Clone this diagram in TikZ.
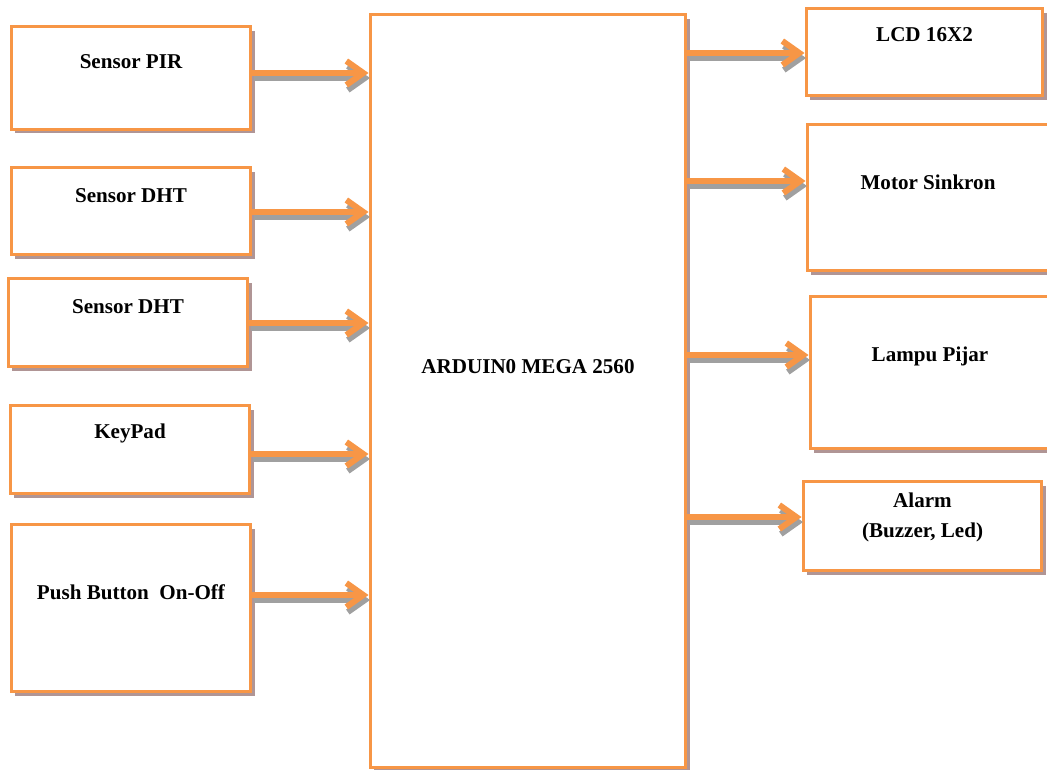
\documentclass[tikz,border=0pt]{standalone}
\usepackage{fontspec}
\setmainfont{Liberation Serif}
\usepackage{tikz}
\usetikzlibrary{arrows.meta,shadows}

\definecolor{oren}{HTML}{F79646}
\definecolor{bayang}{HTML}{B09595}
\definecolor{abu}{HTML}{A0A0A0}

\tikzset{
  blok/.style={draw=oren, line width=0.06cm, fill=white, inner sep=0pt,
    drop shadow={shadow xshift=0.08cm, shadow yshift=-0.09cm, fill=bayang, opacity=1}},
  teks/.style={font=\bfseries\fontsize{12}{17}\selectfont, align=center, inner sep=0pt},
  panah/.style={line width=0.12cm, draw=oren,
    -{Straight Barb[length=0.34cm, width=0.48cm]},
    preaction={draw=abu, line width=0.12cm,
      transform canvas={xshift=0.03cm, yshift=-0.1cm}}}
}

\begin{document}
\begin{tikzpicture}[x=0.02cm, y=-0.02cm]
\useasboundingbox (0,0) rectangle (1047,769);
% masukan
\node[blok, minimum width=4.8cm, minimum height=2.06cm] (pir) at (131,77.5)
  [label={[teks, anchor=center, yshift=-0.74cm]north:Sensor PIR}] {};
\node[blok, minimum width=4.8cm, minimum height=1.74cm] (dht1) at (131,210.5)
  [label={[teks, anchor=center, yshift=-0.6cm]north:Sensor DHT}] {};
\node[blok, minimum width=4.8cm, minimum height=1.76cm] (dht2) at (128,322)
  [label={[teks, anchor=center, yshift=-0.6cm]north:Sensor DHT}] {};
\node[blok, minimum width=4.8cm, minimum height=1.76cm] (key) at (130,449)
  [label={[teks, anchor=center, yshift=-0.6cm]north:KeyPad}] {};
\node[blok, minimum width=4.8cm, minimum height=3.34cm] (push) at (131,607.5)
  [label={[teks, anchor=center, yshift=-1.4cm]north:Push Button\ \ On-Off}] {};
% mikrokontroler
\node[blok, minimum width=6.32cm, minimum height=15.08cm] (ard) at (528,391)
  [label={[teks, anchor=center, yshift=-7.08cm]north:ARDUIN0 MEGA 2560}] {};
% keluaran
\node[blok, minimum width=4.74cm, minimum height=1.74cm] (lcd) at (924.5,51.5)
  [label={[teks, anchor=center, yshift=-0.56cm]north:LCD 16X2}] {};
\node[blok, minimum width=4.84cm, minimum height=2.94cm] (mot) at (928,197.5)
  [label={[teks, anchor=center, yshift=-1.2cm]north:Motor Sinkron}] {};
\node[blok, minimum width=4.8cm, minimum height=3.04cm] (lampu) at (930,372)
  [label={[teks, anchor=center, yshift=-1.24cm]north:Lampu Pijar}] {};
\node[blok, minimum width=4.78cm, minimum height=1.78cm] (alarm) at (922.5,525.5)
  [label={[teks, anchor=center, yshift=-0.76cm]north:Alarm\\(Buzzer, Led)}] {};

\draw[panah] ([yshift=0.09cm]pir.east) -- ([yshift=0.09cm]pir.east -| ard.west);
\draw[panah] ([yshift=-0.03cm]dht1.east) -- ([yshift=-0.03cm]dht1.east -| ard.west);
\draw[panah] ([yshift=-0.02cm]dht2.east) -- ([yshift=-0.02cm]dht2.east -| ard.west);
\draw[panah] ([yshift=-0.1cm]key.east) -- ([yshift=-0.1cm]key.east -| ard.west);
\draw[panah] ([yshift=0.25cm]push.east) -- ([yshift=0.25cm]push.east -| ard.west);

\draw[panah] ([yshift=-0.03cm]ard.east |- lcd.west) -- ([yshift=-0.03cm]lcd.west);
\draw[panah] ([yshift=0.33cm]ard.east |- mot.west) -- ([yshift=0.33cm]mot.west);
\draw[panah] ([yshift=0.34cm]ard.east |- lampu.west) -- ([yshift=0.34cm]lampu.west);
\draw[panah] ([yshift=0.17cm]ard.east |- alarm.west) -- ([yshift=0.17cm]alarm.west);
\end{tikzpicture}
\end{document}
